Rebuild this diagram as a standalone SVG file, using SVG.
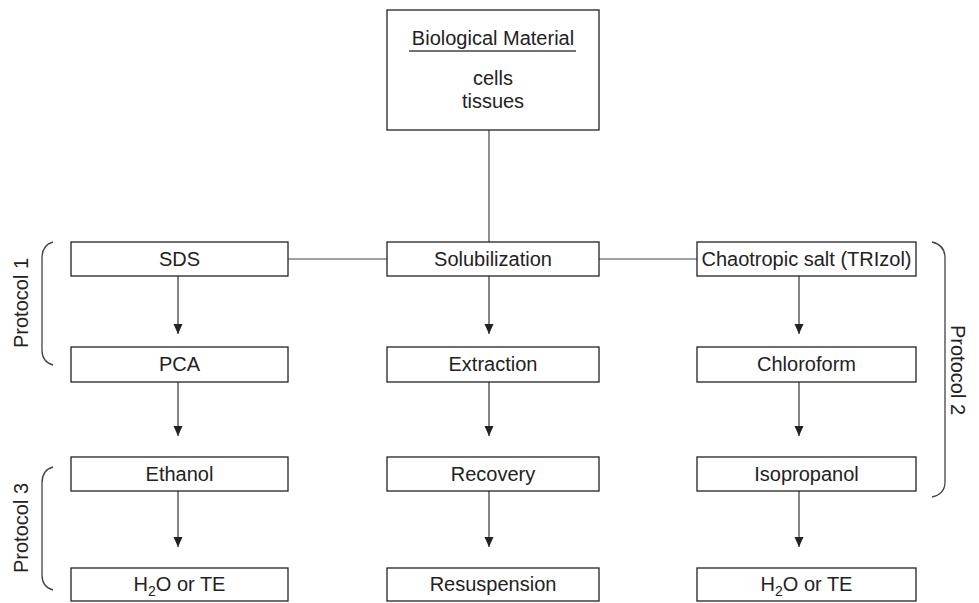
<svg xmlns="http://www.w3.org/2000/svg" width="979" height="603" viewBox="0 0 979 603">
<defs>
<marker id="ah" viewBox="0 0 10 10" refX="10" refY="5" markerWidth="10" markerHeight="10" markerUnits="userSpaceOnUse" orient="auto">
<path d="M0,0.5 L10,5 L0,9.5 Z" fill="#222"/>
</marker>
<style>
.box{fill:#fff;stroke:#222;stroke-width:1.3}
.t{font-family:"Liberation Sans",Arial,sans-serif;font-size:20px;fill:#222;text-anchor:middle}
.c{stroke:#444;stroke-width:1.2;fill:none}
.a{stroke:#333;stroke-width:1.2;fill:none;marker-end:url(#ah)}
.br{stroke:#444;stroke-width:1.3;fill:none}
</style>
</defs>
<rect width="979" height="603" fill="#fff"/>
<g id="connectors">
<line class="c" x1="489" y1="130" x2="489" y2="242"/>
<line class="c" x1="288" y1="259" x2="387" y2="259"/>
<line class="c" x1="599" y1="259" x2="697" y2="259"/>
<line class="a" x1="178" y1="276" x2="178" y2="334"/>
<line class="a" x1="489" y1="276" x2="489" y2="334"/>
<line class="a" x1="799" y1="276" x2="799" y2="334"/>
<line class="a" x1="178" y1="382" x2="178" y2="436"/>
<line class="a" x1="489" y1="382" x2="489" y2="436"/>
<line class="a" x1="799" y1="382" x2="799" y2="436"/>
<line class="a" x1="178" y1="491" x2="178" y2="547"/>
<line class="a" x1="489" y1="491" x2="489" y2="547"/>
<line class="a" x1="799" y1="491" x2="799" y2="547"/>
</g>
<g id="bio">
<rect class="box" x="387" y="10" width="212" height="120"/>
<text class="t" x="493" y="45">Biological Material</text>
<line x1="409" y1="51" x2="576" y2="51" stroke="#444" stroke-width="1.3"/>
<text class="t" x="493" y="85">cells</text>
<text class="t" x="493" y="108">tissues</text>
</g>
<g id="sds"><rect class="box" x="71" y="242" width="217" height="34"/><text class="t" x="179.5" y="266">SDS</text></g>
<g id="solub"><rect class="box" x="387" y="242" width="212" height="34"/><text class="t" x="493" y="266">Solubilization</text></g>
<g id="chao"><rect class="box" x="697" y="242" width="219" height="34"/><text class="t" x="806.5" y="266">Chaotropic salt (TRIzol)</text></g>
<g id="pca"><rect class="box" x="71" y="347" width="217" height="35"/><text class="t" x="179.5" y="371">PCA</text></g>
<g id="extr"><rect class="box" x="387" y="347" width="212" height="35"/><text class="t" x="493" y="371">Extraction</text></g>
<g id="chloro"><rect class="box" x="697" y="347" width="219" height="35"/><text class="t" x="806.5" y="371">Chloroform</text></g>
<g id="eth"><rect class="box" x="71" y="457" width="217" height="34"/><text class="t" x="179.5" y="481">Ethanol</text></g>
<g id="rec"><rect class="box" x="387" y="457" width="212" height="34"/><text class="t" x="493" y="481">Recovery</text></g>
<g id="iso"><rect class="box" x="697" y="457" width="219" height="34"/><text class="t" x="806.5" y="481">Isopropanol</text></g>
<g id="h2o1"><rect class="box" x="71" y="568" width="217" height="33"/><text class="t" x="179.5" y="591">H<tspan font-size="14" dy="5">2</tspan><tspan dy="-5">O or TE</tspan></text></g>
<g id="resus"><rect class="box" x="387" y="568" width="212" height="33"/><text class="t" x="493" y="591">Resuspension</text></g>
<g id="h2o2"><rect class="box" x="697" y="568" width="219" height="33"/><text class="t" x="806.5" y="591">H<tspan font-size="14" dy="5">2</tspan><tspan dy="-5">O or TE</tspan></text></g>
<g id="protocol1">
<path class="br" d="M53,242 Q42,245 42,258 L42,350 Q42,362 53,365"/>
<text class="t" transform="translate(28,303) rotate(-90)">Protocol 1</text>
</g>
<g id="protocol3">
<path class="br" d="M53,467 Q42,470 42,483 L42,575 Q42,587 53,590"/>
<text class="t" transform="translate(28,528) rotate(-90)">Protocol 3</text>
</g>
<g id="protocol2">
<path class="br" d="M932,242 Q945,245 945,258 L945,482 Q945,494 932,497"/>
<text class="t" transform="translate(951,370) rotate(90)">Protocol 2</text>
</g>
</svg>
